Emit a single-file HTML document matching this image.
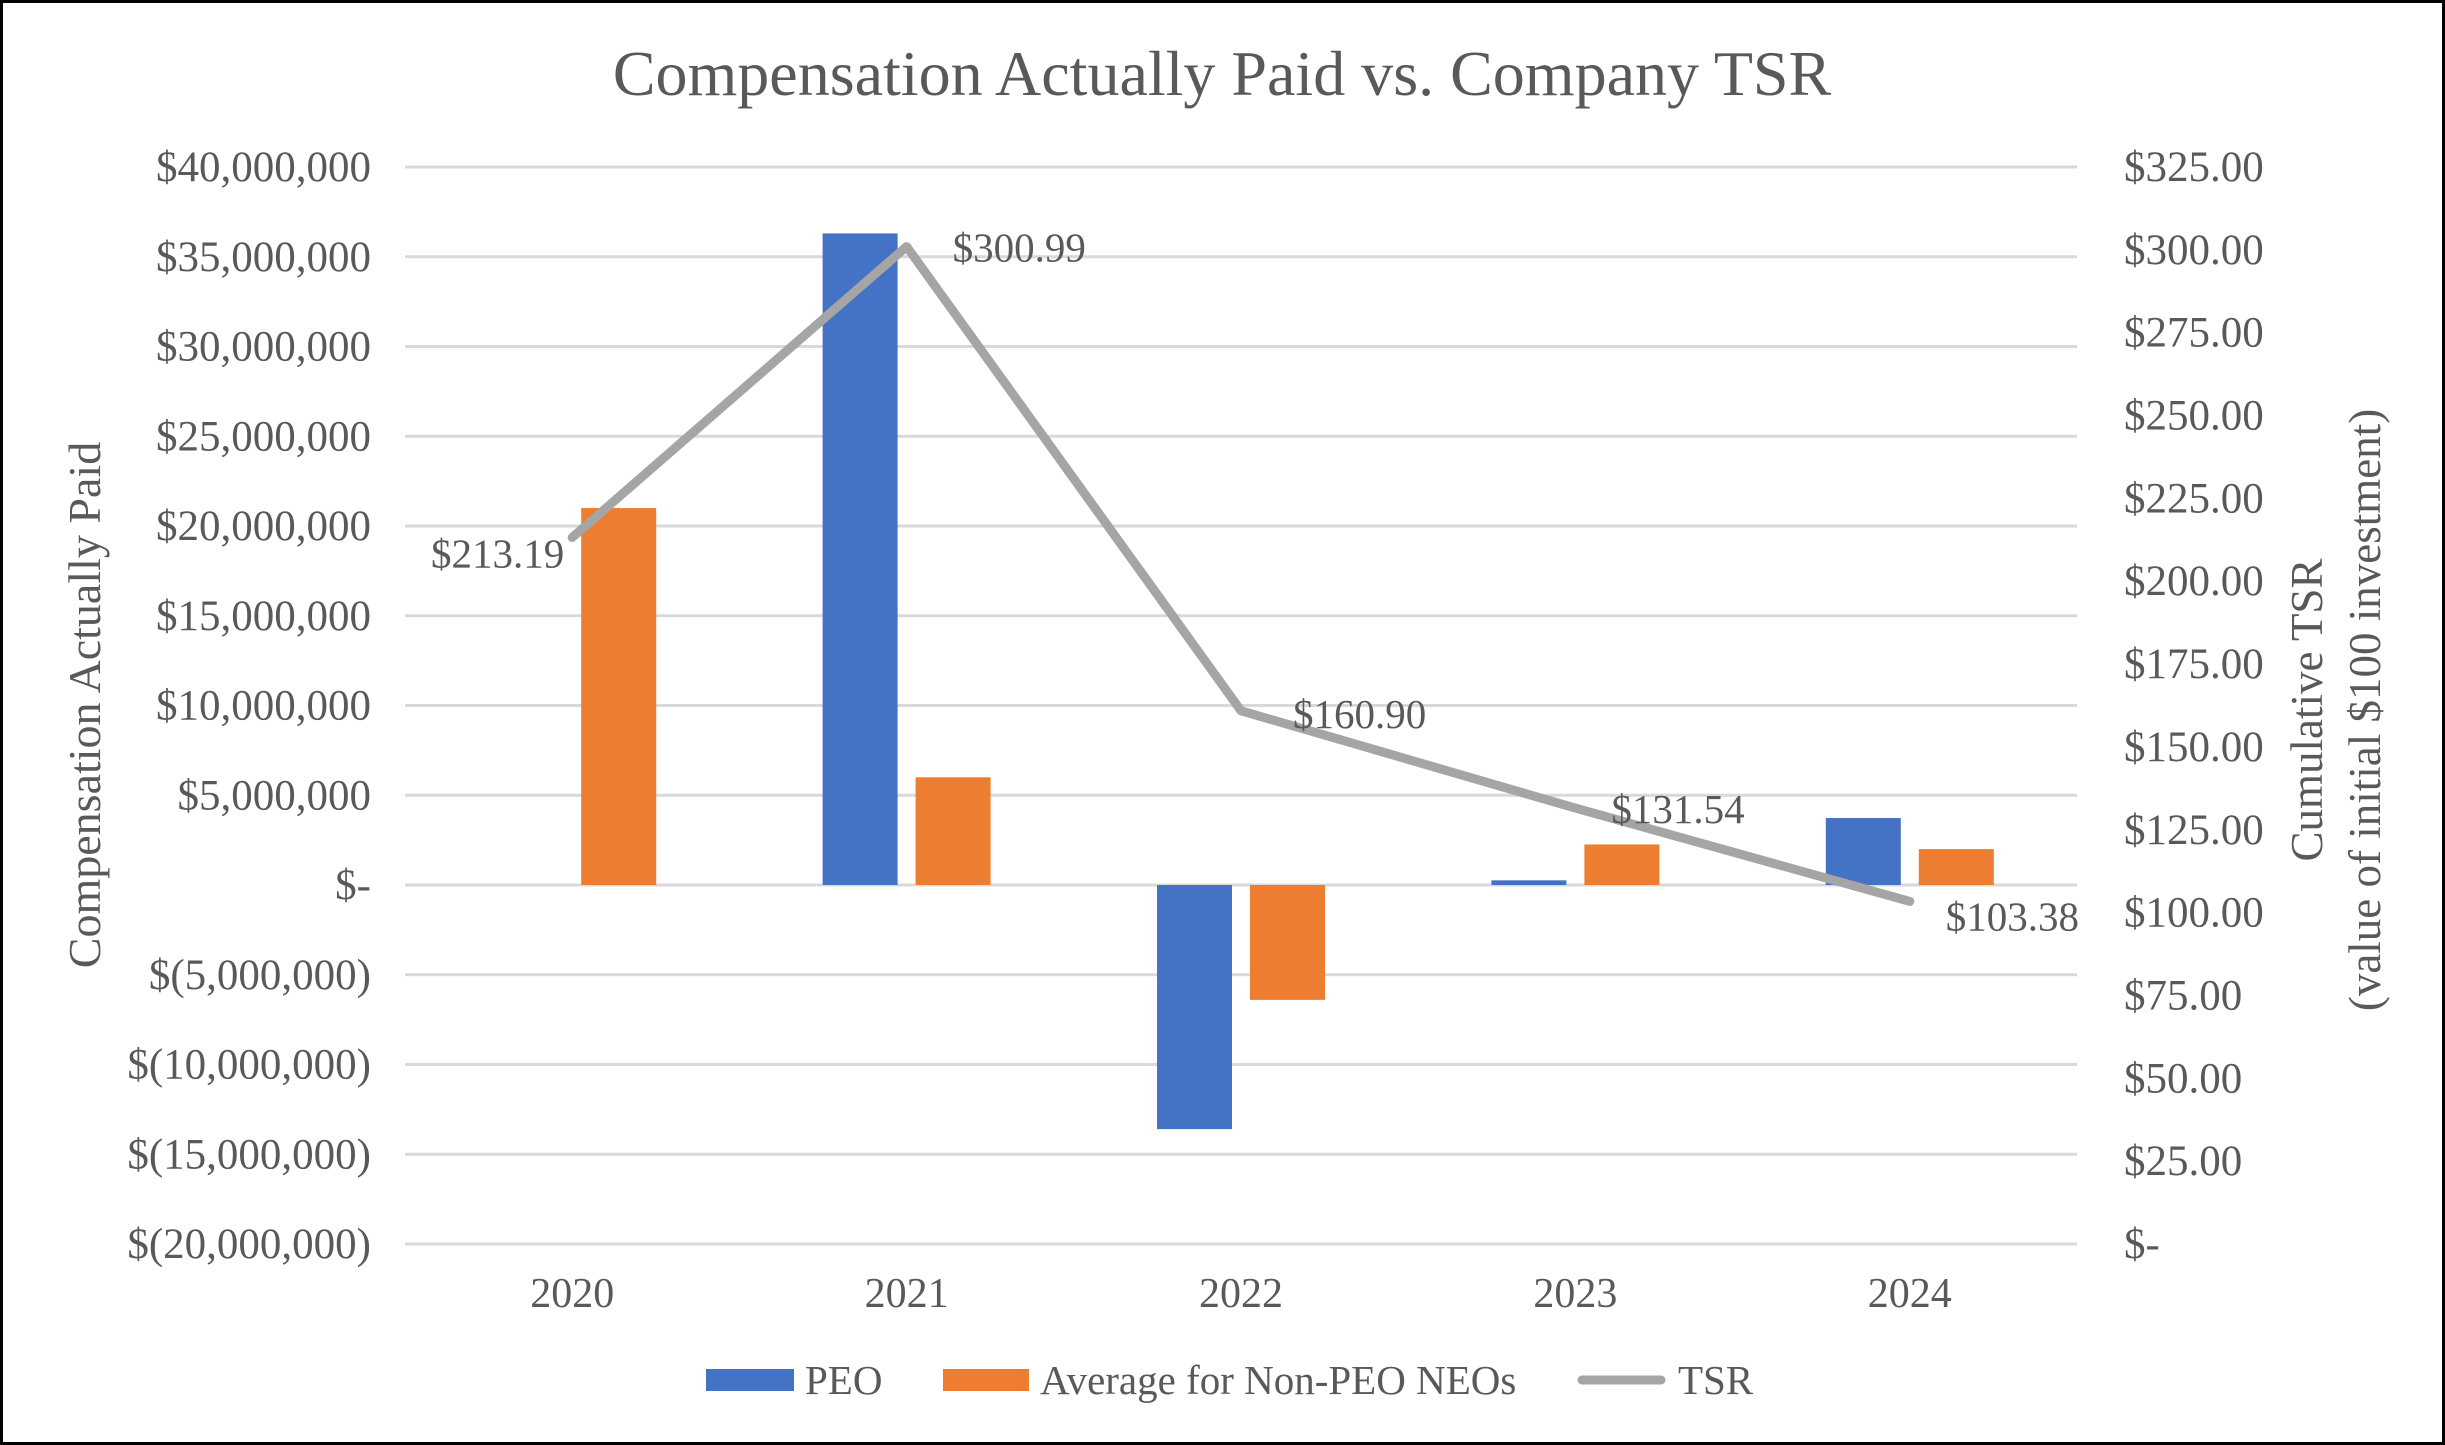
<!DOCTYPE html>
<html><head><meta charset="utf-8"><style>
html,body{margin:0;padding:0;background:#fff}
svg{display:block}
text{font-family:"Liberation Serif",serif;fill:#595959}
</style></head><body>
<svg id="chart" width="2445" height="1445" viewBox="0 0 2445 1445" xmlns="http://www.w3.org/2000/svg">
<rect x="1.5" y="1.5" width="2442" height="1442" fill="#fff" stroke="#000" stroke-width="3"/>
<text x="1222" y="95" font-size="64" text-anchor="middle">Compensation Actually Paid vs. Company TSR</text>
<g id="grid"></g><g id="bars"></g><g id="line"></g><g id="labels"></g>
<text transform="translate(100,705) rotate(-90)" font-size="46" text-anchor="middle">Compensation Actually Paid</text>
<text transform="translate(2322,710) rotate(-90)" font-size="45" text-anchor="middle">Cumulative TSR</text>
<text transform="translate(2380,710) rotate(-90)" font-size="45" text-anchor="middle">(value of initial $100 investment)</text>
<g>
<rect x="706" y="1369" width="88" height="22" fill="#4472c4"/>
<text x="805" y="1394" font-size="41">PEO</text>
<rect x="943" y="1369" width="86" height="22" fill="#ed7d31"/>
<text x="1040" y="1394" font-size="41">Average for Non-PEO NEOs</text>
<line x1="1582" y1="1380" x2="1661" y2="1380" stroke="#a5a5a5" stroke-width="9" stroke-linecap="round"/>
<text x="1678" y="1394" font-size="41">TSR</text>
</g>
</svg>
<script>
const categories=["2020","2021","2022","2023","2024"];
const peoValues=[0,36300000,-13600000,260000,3730000];
const neoValues=[21000000,6000000,-6400000,2260000,2000000];
const tsrValues=[213.19,300.99,160.90,131.54,103.38];
const tsrLabels=["$213.19","$300.99","$160.90","$131.54","$103.38"];
const leftTicks=[40e6,35e6,30e6,25e6,20e6,15e6,10e6,5e6,0,-5e6,-10e6,-15e6,-20e6];
const leftTickLabels=["$40,000,000","$35,000,000","$30,000,000","$25,000,000","$20,000,000","$15,000,000","$10,000,000","$5,000,000","$-","$(5,000,000)","$(10,000,000)","$(15,000,000)","$(20,000,000)"];
const rightTicks=[325,300,275,250,225,200,175,150,125,100,75,50,25,0];
const rightTickLabels=["$325.00","$300.00","$275.00","$250.00","$225.00","$200.00","$175.00","$150.00","$125.00","$100.00","$75.00","$50.00","$25.00","$-"];

const NS="http://www.w3.org/2000/svg";
const X0=405,X1=2077,YT=167,YB=1244;
const yL=v=>YT+(40e6-v)/60e6*(YB-YT);
const yR=v=>YT+(325-v)/325*(YB-YT);
const band=(X1-X0)/categories.length;
const xC=i=>X0+band*(i+0.5);
function mk(tag,attrs,parent){const e=document.createElementNS(NS,tag);for(const k in attrs)e.setAttribute(k,attrs[k]);document.getElementById(parent).appendChild(e);return e;}

leftTicks.forEach((t,i)=>{
  const g=mk('line',{x1:X0,x2:X1,y1:yL(t),y2:yL(t),stroke:'#d9d9d9','stroke-width':3},'grid');
  
  
  const tx=mk('text',{x:371,y:yL(t)+14,'font-size':43,'text-anchor':'end'},'labels');
  tx.textContent=leftTickLabels[i];
  
  
});
rightTicks.forEach((t,i)=>{
  const tx=mk('text',{x:2124,y:yR(t)+14,'font-size':43},'labels');
  tx.textContent=rightTickLabels[i];
  
  
});
categories.forEach((c,i)=>{
  const tx=mk('text',{x:xC(i),y:1307,'font-size':42,'text-anchor':'middle'},'labels');
  tx.textContent=c;
  
  
  const z=yL(0);
  const p=peoValues[i],n=neoValues[i];
  const b1=mk('rect',{x:xC(i)-84,width:75,y:Math.min(yL(p),z),height:Math.abs(yL(p)-z),fill:'#4472c4'},'bars');
  
  
  const b2=mk('rect',{x:xC(i)+9,width:75,y:Math.min(yL(n),z),height:Math.abs(yL(n)-z),fill:'#ed7d31'},'bars');
  
  
});
const pts=tsrValues.map((v,i)=>xC(i)+','+yR(v)).join(' ');
const pl=mk('polyline',{points:pts,fill:'none',stroke:'#a5a5a5','stroke-width':9,'stroke-linecap':'round','stroke-linejoin':'round'},'line');


const offs=[[-8,30,'end'],[46,15,'start'],[52,17,'start'],[36,15,'start'],[36,29,'start']];
tsrValues.forEach((v,i)=>{
  const tx=mk('text',{x:xC(i)+offs[i][0],y:yR(v)+offs[i][1],'font-size':41,'text-anchor':offs[i][2],fill:'#404040'},'labels');
  tx.textContent=tsrLabels[i];
  
  
});
</script>
</body></html>
